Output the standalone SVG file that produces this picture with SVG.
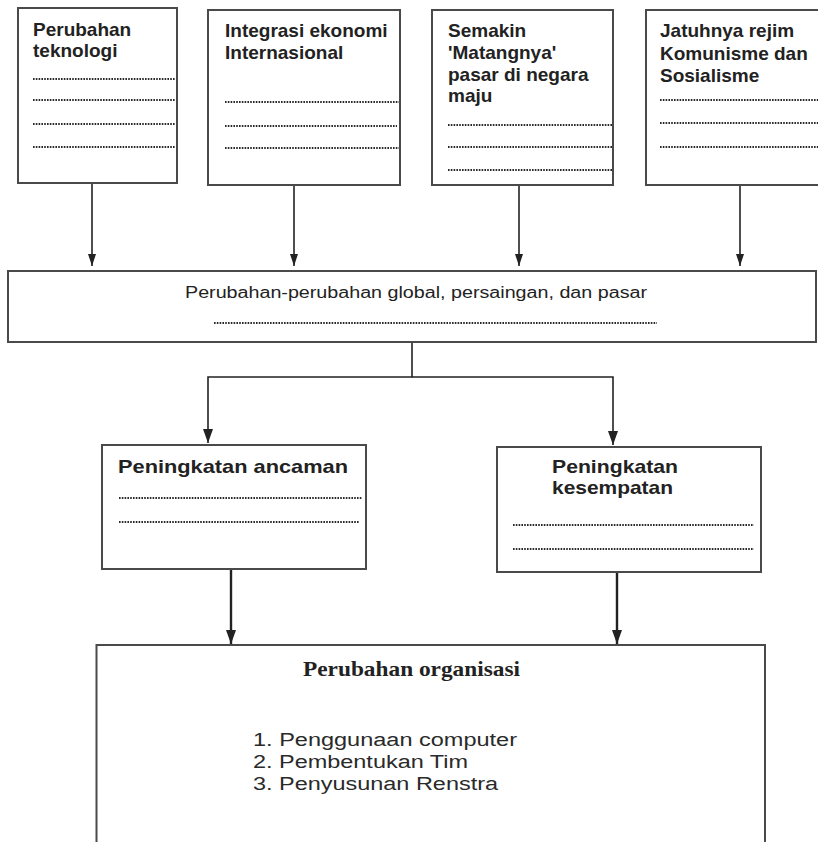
<svg xmlns="http://www.w3.org/2000/svg" width="818" height="842" viewBox="0 0 818 842">
<defs>
<style>
.box{fill:#fff;stroke:#4a4a4a;stroke-width:2}
.hd{font-family:"Liberation Sans",Arial,sans-serif;font-weight:bold;font-size:19px;fill:#222}
.reg{font-family:"Liberation Sans",Arial,sans-serif;font-size:16px;fill:#222}
.lst{font-family:"Liberation Sans",Arial,sans-serif;font-size:18px;fill:#2a2a2a}
.tms{font-family:"Liberation Serif","Times New Roman",serif;font-weight:bold;font-size:21px;fill:#222}
.dot{stroke:#2a2a2a;stroke-width:2;stroke-dasharray:1.6 1.2;fill:none}
.con{stroke:#222;stroke-width:1.6;fill:none}
.con2{stroke:#222;stroke-width:2.4;fill:none}
</style>
<marker id="ah" viewBox="0 0 12 8" refX="12" refY="4" markerWidth="12" markerHeight="8" markerUnits="userSpaceOnUse" orient="auto">
<path d="M0,0 L12,4 L0,8 z" fill="#222"/>
</marker>
<marker id="ah2" viewBox="0 0 14 10" refX="14" refY="5" markerWidth="14" markerHeight="10" markerUnits="userSpaceOnUse" orient="auto">
<path d="M0,0 L14,5 L0,10 z" fill="#222"/>
</marker>
</defs>
<rect width="818" height="842" fill="#fff"/>

<g id="connectors">
<line class="con" x1="92" y1="184" x2="92" y2="266" marker-end="url(#ah)"/>
<line class="con" x1="294" y1="186" x2="294" y2="266" marker-end="url(#ah)"/>
<line class="con" x1="519" y1="186" x2="519" y2="266" marker-end="url(#ah)"/>
<line class="con" x1="740" y1="186" x2="740" y2="266" marker-end="url(#ah)"/>
<polyline class="con" points="412,342 412,377 208,377 208,443" marker-end="url(#ah2)"/>
<polyline class="con" points="412,377 613,377 613,445" marker-end="url(#ah2)"/>
<line class="con2" x1="231" y1="570" x2="231" y2="644" marker-end="url(#ah2)"/>
<line class="con2" x1="617" y1="573" x2="617" y2="644" marker-end="url(#ah2)"/>
</g>

<g id="n1">
<rect class="box" x="18" y="8" width="159" height="175"/>
<text class="hd" x="33" y="36">Perubahan</text>
<text class="hd" x="33" y="57">teknologi</text>
<line class="dot" x1="33" y1="79" x2="175" y2="79"/>
<line class="dot" x1="33" y1="100" x2="175" y2="100"/>
<line class="dot" x1="33" y1="124" x2="175" y2="124"/>
<line class="dot" x1="33" y1="147" x2="175" y2="147"/>
</g>

<g id="n2">
<rect class="box" x="208" y="10" width="192" height="175"/>
<text class="hd" x="225" y="37">Integrasi ekonomi</text>
<text class="hd" x="225" y="59">Internasional</text>
<line class="dot" x1="225" y1="102" x2="399" y2="102"/>
<line class="dot" x1="225" y1="126" x2="397" y2="126"/>
<line class="dot" x1="225" y1="148" x2="399" y2="148"/>
</g>

<g id="n3">
<rect class="box" x="432" y="10" width="181" height="175"/>
<text class="hd" x="448" y="37">Semakin</text>
<text class="hd" x="448" y="59">'Matangnya'</text>
<text class="hd" x="448" y="81">pasar di negara</text>
<text class="hd" x="448" y="102">maju</text>
<line class="dot" x1="448" y1="125" x2="612" y2="125"/>
<line class="dot" x1="448" y1="147" x2="612" y2="147"/>
<line class="dot" x1="448" y1="170" x2="612" y2="170"/>
</g>

<g id="n4">
<rect class="box" x="646" y="10" width="180" height="175"/>
<text class="hd" x="660" y="37">Jatuhnya rejim</text>
<text class="hd" x="660" y="59.5">Komunisme dan</text>
<text class="hd" x="660" y="81.5">Sosialisme</text>
<line class="dot" x1="660" y1="100" x2="818" y2="100"/>
<line class="dot" x1="660" y1="123" x2="818" y2="123"/>
<line class="dot" x1="660" y1="147" x2="818" y2="147"/>
</g>

<g id="n5">
<rect class="box" x="8" y="271" width="808" height="71"/>
<text class="reg" x="185" y="298" textLength="462" lengthAdjust="spacingAndGlyphs">Perubahan-perubahan global, persaingan, dan pasar</text>
<line class="dot" x1="214" y1="323" x2="657" y2="323"/>
</g>

<g id="n6">
<rect class="box" x="102" y="445" width="264" height="124"/>
<text class="hd" x="118" y="473" style="font-size:18.6px" textLength="230" lengthAdjust="spacingAndGlyphs">Peningkatan ancaman</text>
<line class="dot" x1="119" y1="498" x2="362" y2="498"/>
<line class="dot" x1="119" y1="522" x2="359" y2="522"/>
</g>

<g id="n7">
<rect class="box" x="497" y="447" width="264" height="125"/>
<text class="hd" x="552" y="473" style="font-size:18.6px" textLength="126" lengthAdjust="spacingAndGlyphs">Peningkatan</text>
<text class="hd" x="552" y="494" style="font-size:18.6px" textLength="121" lengthAdjust="spacingAndGlyphs">kesempatan</text>
<line class="dot" x1="513" y1="525" x2="754" y2="525"/>
<line class="dot" x1="513" y1="549" x2="754" y2="549"/>
</g>

<g id="n8">
<rect class="box" x="96.5" y="645" width="668.5" height="210"/>
<text class="tms" x="303" y="676" textLength="217" lengthAdjust="spacingAndGlyphs">Perubahan organisasi</text>
<text class="lst" x="253" y="746" textLength="264" lengthAdjust="spacingAndGlyphs">1. Penggunaan computer</text>
<text class="lst" x="253" y="768" textLength="215" lengthAdjust="spacingAndGlyphs">2. Pembentukan Tim</text>
<text class="lst" x="253" y="790" textLength="245" lengthAdjust="spacingAndGlyphs">3. Penyusunan Renstra</text>
</g>
</svg>
